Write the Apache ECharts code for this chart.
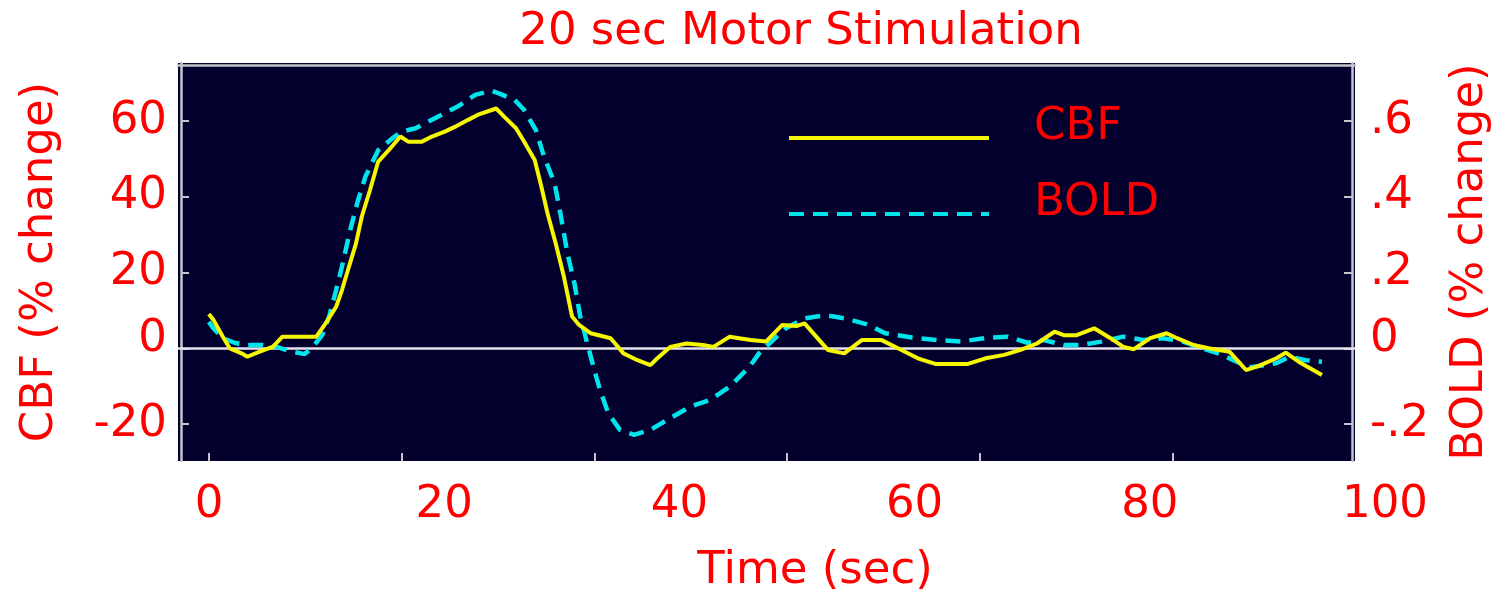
<!DOCTYPE html>
<html>
<head>
<meta charset="utf-8">
<script src="https://cdn.jsdelivr.net/npm/echarts@6/dist/echarts.min.js"></script>
<style>html,body{margin:0;padding:0;background:#fff;}#c{width:1501px;height:599px;}</style>
</head>
<body>
<div id="c"></div>
<script>
// ---- data (time in sec, CBF in % change, BOLD in % change) ----
const cbfTime = [0,0.4,1.2,1.8,2.8,3.3,4.3,5.5,6.3,9.2,10,10.9,11.4,12,12.6,13.1,13.8,14.5,15.4,16.4,17.1,18.2,19.1,20.2,21.1,22.2,23.0,24.6,25.3,26.3,27.0,27.9,28.4,29.0,29.7,30.4,31.1,31.7,32.7,34.4,35.5,36.7,37.8,38.4,39.5,40.9,42.3,43.2,44.6,45.4,46.4,47.7,49.1,50.3,51.0,53.0,54.4,55.9,57.6,59.3,60.7,62.2,65.0,66.5,68.1,69.5,70.9,72.4,73.2,74.3,75.8,77.2,78.3,79.2,80.6,82.0,82.9,84.3,85.7,87.4,88.8,89.9,91.4,92.2,93.3,95.3];
const cbfValue = [9.1,7.5,3.1,0,-1.3,-2.2,-0.9,0.5,3.1,3.1,6.6,11,15.4,21.6,27.7,34.8,41.8,49.3,52.3,55.9,54.5,54.5,55.9,57.2,58.5,60.3,61.6,63.3,61.1,58.1,54.5,49.7,43.6,35.6,27.7,18.9,8.4,6.2,4,2.7,-1.3,-3.1,-4.4,-2.6,0.4,1.3,0.9,0.4,3.1,2.7,2.2,1.8,6.2,5.9,6.6,-0.4,-1.3,2.2,2.2,-0.4,-2.6,-4.1,-4.1,-2.6,-1.7,-0.4,1.3,4.4,3.5,3.5,5.3,2.7,0.4,-0.2,2.7,4,2.7,0.9,0,-0.9,-5.7,-4.6,-2.6,-1.1,-3.5,-7.0];
const boldTime = [0,0.4,1.2,2.2,3.2,4.6,5.8,6.9,8.2,8.9,9.7,10.3,10.9,11.4,12.1,12.7,13.4,14.5,15.7,16.5,17.7,19.6,21.3,22.8,24.2,25.0,26.2,27.0,28.0,28.7,29.6,30.1,30.7,31.3,31.8,32.4,33.0,33.5,34.2,35.2,36.4,37.8,39.5,41.2,42.9,44.6,46.3,47.1,48.3,49.4,51.0,52.8,54.5,56.5,57.9,60.2,62.4,64.4,66.4,68.4,70.1,71.5,73.2,74.7,76.4,78.3,80.0,81.7,83.4,85.1,86.8,87.7,89.1,91.4,92.5,93.9,95.3];
const boldValue = [0.07,0.053,0.027,0.015,0.009,0.009,0.004,-0.007,-0.015,0.004,0.035,0.084,0.154,0.216,0.312,0.383,0.453,0.523,0.554,0.572,0.581,0.611,0.638,0.669,0.68,0.671,0.655,0.629,0.576,0.506,0.436,0.356,0.251,0.172,0.084,0.013,-0.057,-0.11,-0.171,-0.215,-0.228,-0.215,-0.184,-0.154,-0.136,-0.101,-0.048,-0.013,0.022,0.053,0.079,0.088,0.079,0.062,0.04,0.029,0.022,0.018,0.027,0.031,0.015,0.022,0.009,0.009,0.018,0.031,0.022,0.027,0.018,0,-0.017,-0.031,-0.05,-0.039,-0.022,-0.031,-0.035];

const xLabelTicks = [0,20,40,60,80,100];
const xTickMarks = [0,16.5,33,49.5,66,82.5];
const cbfTicks = [-20,0,20,40,60];
const boldTicks = [-0.2,0,0.2,0.4,0.6];

const titleText = '20 sec Motor Stimulation';
const xName = 'Time (sec)';
const cbfName = 'CBF (% change)';
const boldName = 'BOLD (% change)';
const seriesNames = ['CBF','BOLD'];

// ---- styles ----
const RED = '#ff0000';
const FONT = 'DejaVu Sans';
const FRAME = '#c4c4cc';
const FS = 45;
const YEL = '#f6f600';
const CYA = '#00e4ec';

const zip = (a,b) => a.map((v,i)=>[v,b[i]]);
// the zero labels sit a little higher than their ticks in the reference
const zeroRich = {z:{lineHeight:45, fontSize:FS, fontFamily:FONT, color:RED}, e:{lineHeight:18, fontSize:8}};
const fmtCbf = v => Math.abs(v) < 1e-9 ? '{z|0}\n{e| }' : String(v);
const fmtBold = v => Math.abs(v) < 1e-9 ? '{z|0}\n{e| }' : (v<0?'-':'') + '.' + Math.round(Math.abs(v)*10);

const chart = echarts.init(document.getElementById('c'), null, {renderer:'canvas'});
chart.setOption({
  animation:false,
  backgroundColor:'#ffffff',
  title:{
    text:titleText, left:796, top:5, textAlign:'center',
    textStyle:{color:RED, fontFamily:FONT, fontSize:FS, fontWeight:'normal'}
  },
  legend:{
    data:seriesNames, orient:'vertical', left:787, top:105, padding:0,
    itemWidth:200, itemHeight:14, itemGap:10,
    formatter: n => n + '\n',
    itemStyle:{opacity:0, borderWidth:0},
    lineStyle:{width:4},
    textStyle:{color:RED, fontFamily:FONT, fontSize:FS, lineHeight:21, padding:[0,0,0,40]}
  },
  grid:[
    {left:178, right:138, top:63, bottom:138, show:true, backgroundColor:'#03002e', borderWidth:0},
    {left:209, right:116, top:63, bottom:138, show:false}
  ],
  xAxis:[
    {gridIndex:0, type:'value', min:-2.64, max:98.13,
     axisLine:{show:false, onZero:false},
     axisTick:{show:true, inside:true, length:8, customValues:xTickMarks, lineStyle:{color:FRAME, width:2}},
     axisLabel:{show:false}, splitLine:{show:false}},
    {gridIndex:0, type:'value', position:'top', min:-2.64, max:98.13, offset:-2,
     axisLine:{show:true, onZero:false, lineStyle:{color:FRAME, width:2.5}},
     axisTick:{show:false}, axisLabel:{show:false}, splitLine:{show:false}},
    {gridIndex:1, type:'value', min:0, max:100, interval:20,
     axisLine:{show:false, onZero:false}, axisTick:{show:false}, splitLine:{show:false},
     axisLabel:{show:true, color:RED, fontFamily:FONT, fontSize:FS, margin:24, customValues:xLabelTicks},
     name:xName, nameLocation:'middle', nameGap:90,
     nameTextStyle:{color:RED, fontFamily:FONT, fontSize:FS, padding:[0,0,0,36]}}
  ],
  yAxis:[
    {gridIndex:0, type:'value', position:'left', min:-29.7, max:75.3, offset:-3,
     axisLine:{show:true, onZero:false, lineStyle:{color:FRAME, width:2.5}},
     axisTick:{show:true, inside:true, length:8, customValues:cbfTicks, lineStyle:{color:FRAME, width:2}},
     axisLabel:{show:true, color:RED, fontFamily:FONT, fontSize:FS, margin:14, customValues:cbfTicks,
       formatter:fmtCbf, rich:zeroRich},
     splitLine:{show:false},
     name:cbfName, nameLocation:'middle', nameGap:118, nameRotate:90,
     nameTextStyle:{color:RED, fontFamily:FONT, fontSize:FS}},
    {gridIndex:0, type:'value', position:'right', min:-0.297, max:0.753, offset:-3,
     axisLine:{show:true, onZero:false, lineStyle:{color:FRAME, width:2.5}},
     axisTick:{show:true, inside:true, length:8, customValues:boldTicks, lineStyle:{color:FRAME, width:2}},
     axisLabel:{show:true, color:RED, fontFamily:FONT, fontSize:FS, margin:18, customValues:boldTicks,
       formatter:fmtBold, rich:zeroRich},
     splitLine:{show:false},
     name:boldName, nameLocation:'middle', nameGap:96, nameRotate:90,
     nameTextStyle:{color:RED, fontFamily:FONT, fontSize:FS}},
    {gridIndex:1, type:'value', min:0, max:1, show:false}
  ],
  series:[
    {name:seriesNames[0], type:'line', xAxisIndex:0, yAxisIndex:0, data:zip(cbfTime,cbfValue),
     symbol:'none', color:YEL, lineStyle:{color:YEL, width:4}, z:3,
     markLine:{silent:true, symbol:'none', label:{show:false}, data:[{yAxis:0}],
       lineStyle:{color:'#e4e4ee', width:2.5, type:'solid'}, z:1}},
    {name:seriesNames[1], type:'line', xAxisIndex:0, yAxisIndex:1, data:zip(boldTime,boldValue),
     symbol:'none', color:CYA, lineStyle:{color:CYA, width:4.5, type:[15,9]}, z:2}
  ]
});
</script>
</body>
</html>
